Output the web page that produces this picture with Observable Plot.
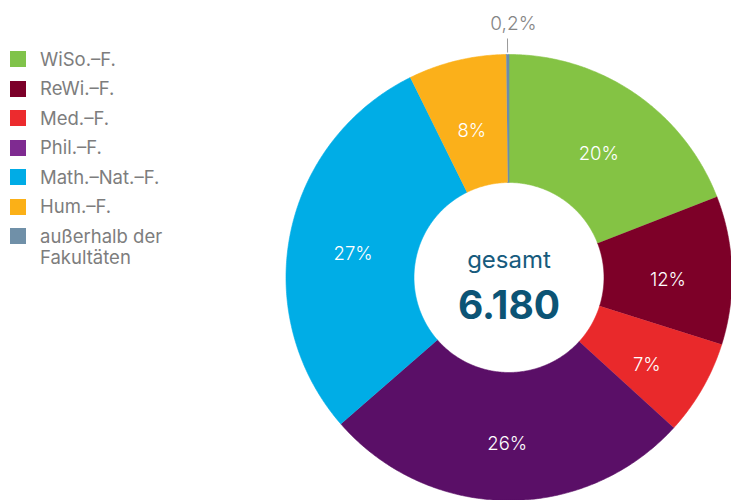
<!DOCTYPE html>
<html>
<head>
<meta charset="utf-8">
<script src="https://cdn.jsdelivr.net/npm/d3@7"></script>
<script src="https://cdn.jsdelivr.net/npm/@observablehq/plot@0.6"></script>
<style>
  body { margin: 0; background: #fff; font-family: Inter, "Noto Sans", sans-serif; }
  #wrap { position: relative; width: 731px; height: 500px; overflow: hidden; }
  #chart { position: absolute; left: 0; top: 0; }
  #legend { position: absolute; left: 10px; top: 49px; z-index: 2; }
  .row { display: flex; align-items: flex-start; margin-bottom: 9px; }
  .row:last-child { margin-top: 3px; }
  .sw { width: 16px; height: 16px; margin-top: 2px; margin-right: 14px; flex: none; }
  .lt { font-size: 18.5px; line-height: 21px; color: #7d7d7d; font-weight: 400; margin-top: -0.5px; }
</style>
</head>
<body>
<div id="wrap">
  <div id="chart"></div>
  <div id="legend"></div>
</div>
<script>
// ---- data ----
const faculties = ["WiSo.–F.", "ReWi.–F.", "Med.–F.", "Phil.–F.", "Math.–Nat.–F.", "Hum.–F.", "außerhalb der Fakultäten"];
const legendLabels = ["WiSo.–F.", "ReWi.–F.", "Med.–F.", "Phil.–F.", "Math.–Nat.–F.", "Hum.–F.", "außerhalb der<br>Fakultäten"];
const shares = [19.1, 10.75, 6.9, 26.8, 29.1, 7.1, 0.2];
const shareLabels = ["20%", "12%", "7%", "26%", "27%", "8%", "0,2%"];
const centerTitle = "gesamt";
const centerTotal = "6.180";

// ---- styles ----
const sliceColors = ["#84c344", "#7d0028", "#e9292b", "#5a0f67", "#00ade6", "#fbb01a", "#6b8bad"];
const legendColors = ["#80c34a", "#7c0029", "#ec2b2e", "#7f2b91", "#00ace6", "#fbb017", "#7090a8"];
const R = 223, r0 = 95, rLabel = 159;

// ---- build geometry through d3.pie ----
const table = faculties.map((f, i) => ({faculty: f, value: shares[i], label: shareLabels[i]}));
const arcs = d3.pie().sort(null).value(d => d.value).startAngle(0).endAngle(2 * Math.PI)(table);

const polys = [];
for (const a of arcs) {
  const n = Math.max(2, Math.ceil((a.endAngle - a.startAngle) / (Math.PI / 360)));
  const pts = [];
  for (let k = 0; k <= n; k++) {
    const t = a.startAngle + (a.endAngle - a.startAngle) * k / n;
    pts.push({faculty: a.data.faculty, x: R * Math.sin(t), y: R * Math.cos(t)});
  }
  for (let k = n; k >= 0; k--) {
    const t = a.startAngle + (a.endAngle - a.startAngle) * k / n;
    pts.push({faculty: a.data.faculty, x: r0 * Math.sin(t), y: r0 * Math.cos(t)});
  }
  polys.push(...pts);
}

const mids = arcs.map(a => ({...a.data, mid: (a.startAngle + a.endAngle) / 2}));
const inside = mids.filter(d => d.value >= 1).map(d => ({...d, x: rLabel * Math.sin(d.mid), y: rLabel * Math.cos(d.mid)}));
const outside = mids.filter(d => d.value < 1).map(d => ({
  ...d,
  x1: 225 * Math.sin(d.mid), y1: 225 * Math.cos(d.mid),
  x2: 239 * Math.sin(d.mid), y2: 239 * Math.cos(d.mid),
  tx: 255 * Math.sin(d.mid) + 6, ty: 255 * Math.cos(d.mid)
}));

const plot = Plot.plot({
  width: 731,
  height: 500,
  margin: 0,
  x: {domain: [-508.5, 222.5], axis: null},
  y: {domain: [-223, 277], axis: null},
  color: {domain: faculties, range: sliceColors},
  style: {fontFamily: "Inter, 'Noto Sans', sans-serif", background: "transparent"},
  marks: [
    Plot.line(polys, {x: "x", y: "y", z: "faculty", fill: "faculty", stroke: "faculty", strokeWidth: 0.6}),
    Plot.text(inside, {x: "x", y: "y", text: "label", dy: 8, fill: "white", fontSize: 18.5, fontWeight: 300}),
    Plot.link(outside, {x1: "x1", y1: "y1", x2: "x2", y2: "y2", stroke: "#9a9a9a", strokeWidth: 1}),
    Plot.text(outside, {x: "tx", y: "ty", text: "label", dy: 1, fill: "#858585", fontSize: 19, fontWeight: 300}),
    Plot.text([centerTitle], {x: () => 0, y: () => 0, text: d => d, dy: -17, fill: "#175b7d", fontSize: 24, fontWeight: 400}),
    Plot.text([centerTotal], {x: () => 0, y: () => 0, text: d => d, dy: 29, fill: "#0c5475", fontSize: 39, fontWeight: 700})
  ]
});
document.getElementById("chart").append(plot);

// ---- legend ----
const leg = d3.select("#legend");
legendLabels.forEach((l, i) => {
  const row = leg.append("div").attr("class", "row");
  row.append("div").attr("class", "sw").style("background", legendColors[i]);
  row.append("div").attr("class", "lt").html(l);
});
</script>
</body>
</html>
